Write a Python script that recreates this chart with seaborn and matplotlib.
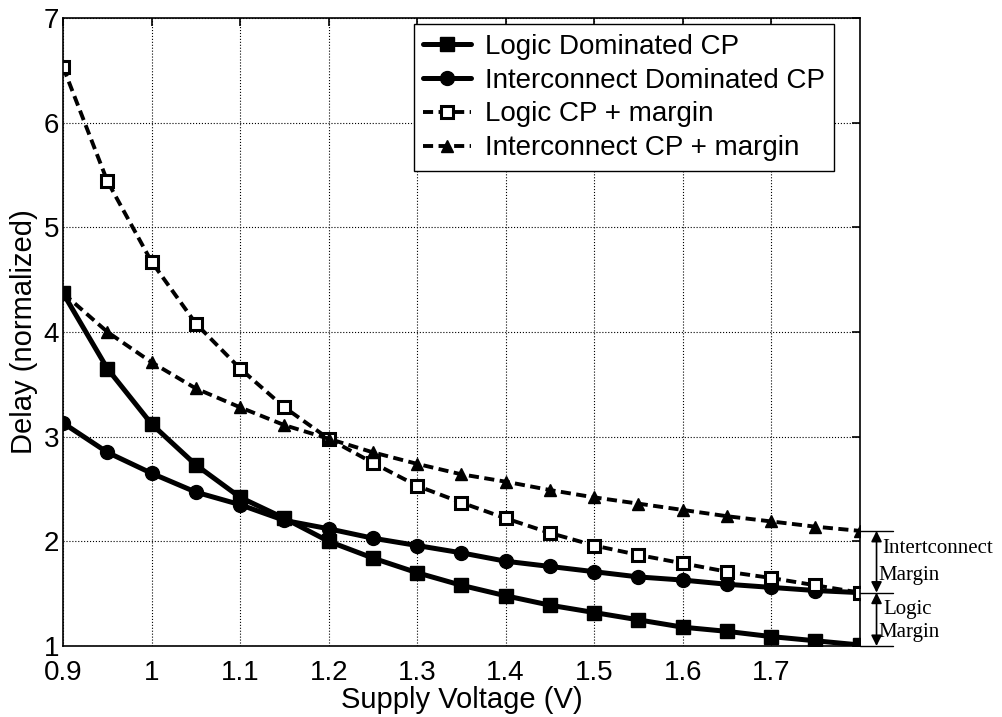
import numpy as np
import pandas as pd
import matplotlib
matplotlib.use('Agg')
import matplotlib.pyplot as plt
import seaborn as sns

sns.set_style('white')
plt.rcParams['font.family'] = ['Liberation Sans', 'DejaVu Sans']
plt.rcParams['text.color'] = 'black'
plt.rcParams['axes.labelcolor'] = 'black'
plt.rcParams['xtick.color'] = 'black'
plt.rcParams['ytick.color'] = 'black'

voltage = [0.9, 0.95, 1.0, 1.05, 1.1, 1.15, 1.2, 1.25, 1.3, 1.35, 1.4,
           1.45, 1.5, 1.55, 1.6, 1.65, 1.7, 1.75, 1.8]
logic_cp = [4.37, 3.65, 3.12, 2.73, 2.42, 2.22, 2.00, 1.84, 1.70, 1.58, 1.48,
            1.39, 1.32, 1.25, 1.18, 1.14, 1.09, 1.05, 1.01]
inter_cp = [3.13, 2.85, 2.65, 2.47, 2.35, 2.20, 2.12, 2.03, 1.96, 1.89, 1.81,
            1.76, 1.71, 1.66, 1.63, 1.59, 1.56, 1.53, 1.51]
logic_margin = [6.53, 5.44, 4.67, 4.08, 3.65, 3.28, 2.98, 2.75, 2.53, 2.37, 2.22,
                2.08, 1.96, 1.87, 1.79, 1.71, 1.65, 1.58, 1.51]
inter_margin = [4.37, 4.00, 3.71, 3.46, 3.28, 3.11, 2.98, 2.85, 2.74, 2.64, 2.57,
                2.49, 2.42, 2.36, 2.30, 2.24, 2.19, 2.14, 2.10]

labels = ['Logic Dominated CP', 'Interconnect Dominated CP',
          'Logic CP + margin', 'Interconnect CP + margin']

fig = plt.figure(figsize=(10.02, 7.17), dpi=100)
ax = fig.add_axes([0.063, 0.099, 0.795, 0.876])

series = [
    (logic_cp, dict(marker='s', ls='-', lw=3.6, ms=10, mfc='black')),
    (inter_cp, dict(marker='o', ls='-', lw=3.6, ms=10, mfc='black')),
    (logic_margin, dict(marker='s', ls='--', lw=2.8, ms=8, mfc='white', mew=2.2)),
    (inter_margin, dict(marker='^', ls='--', lw=2.8, ms=9, mfc='black')),
]
for (vals, st), lab in zip(series, labels):
    df = pd.DataFrame({'V': voltage, 'D': vals})
    sns.lineplot(data=df, x='V', y='D', ax=ax, color='black', label=lab,
                 linewidth=st['lw'], marker=st['marker'],
                 markersize=st['ms'], markerfacecolor=st['mfc'],
                 markeredgecolor='black', markeredgewidth=st.get('mew', 1))
    if st['ls'] == '--':
        ax.lines[-1].set_dashes((2.6, 1.4))

ax.set_xlim(0.9, 1.8)
ax.set_ylim(1, 7)
ax.set_xticks([0.9, 1.0, 1.1, 1.2, 1.3, 1.4, 1.5, 1.6, 1.7])
ax.set_xticklabels(['0.9', '1', '1.1', '1.2', '1.3', '1.4', '1.5', '1.6', '1.7'])
ax.set_yticks([1, 2, 3, 4, 5, 6, 7])
ax.grid(True, color='black', linestyle=':', linewidth=0.8)
ax.tick_params(direction='in', labelsize=20, length=6, width=1.2,
               top=True, right=True)
ax.tick_params(axis='x', pad=10)
ax.tick_params(axis='y', pad=3)
for s in ax.spines.values():
    s.set_color('black')
    s.set_linewidth(1.2)
ax.set_xlabel('Supply Voltage (V)', fontsize=21, labelpad=0)
ax.set_ylabel('Delay (normalized)', fontsize=21, labelpad=4)

leg = ax.legend(loc='upper right', bbox_to_anchor=(0.968, 0.99), fontsize=20,
                handlelength=1.7, handletextpad=0.5, labelspacing=0.28,
                borderpad=0.35, borderaxespad=0, fancybox=False, framealpha=1,
                edgecolor='black')
leg.get_frame().set_linewidth(1.0)

# margin annotations outside the axes
xa = 1.819
for y in [2.10, 1.51, 1.0]:
    ax.plot([1.8, 1.838], [y, y], color='black', lw=1, clip_on=False)
for top, bot in [(2.10, 1.51), (1.51, 1.0)]:
    ax.annotate('', xy=(xa, top), xytext=(xa, bot), xycoords='data',
                arrowprops=dict(arrowstyle='<|-|>', color='black', lw=1.2,
                                mutation_scale=16, shrinkA=0, shrinkB=0),
                annotation_clip=False)
serif = ['Liberation Serif', 'DejaVu Serif']
ax.text(1.826, 1.93, 'Intertconnect', fontsize=15, family=serif,
        va='center', ha='left', clip_on=False)
ax.text(1.821, 1.67, 'Margin', fontsize=15, family=serif,
        va='center', ha='left', clip_on=False)
ax.text(1.827, 1.35, 'Logic', fontsize=15, family=serif,
        va='center', ha='left', clip_on=False)
ax.text(1.821, 1.13, 'Margin', fontsize=15, family=serif,
        va='center', ha='left', clip_on=False)

fig.savefig('out.png', dpi=100)
